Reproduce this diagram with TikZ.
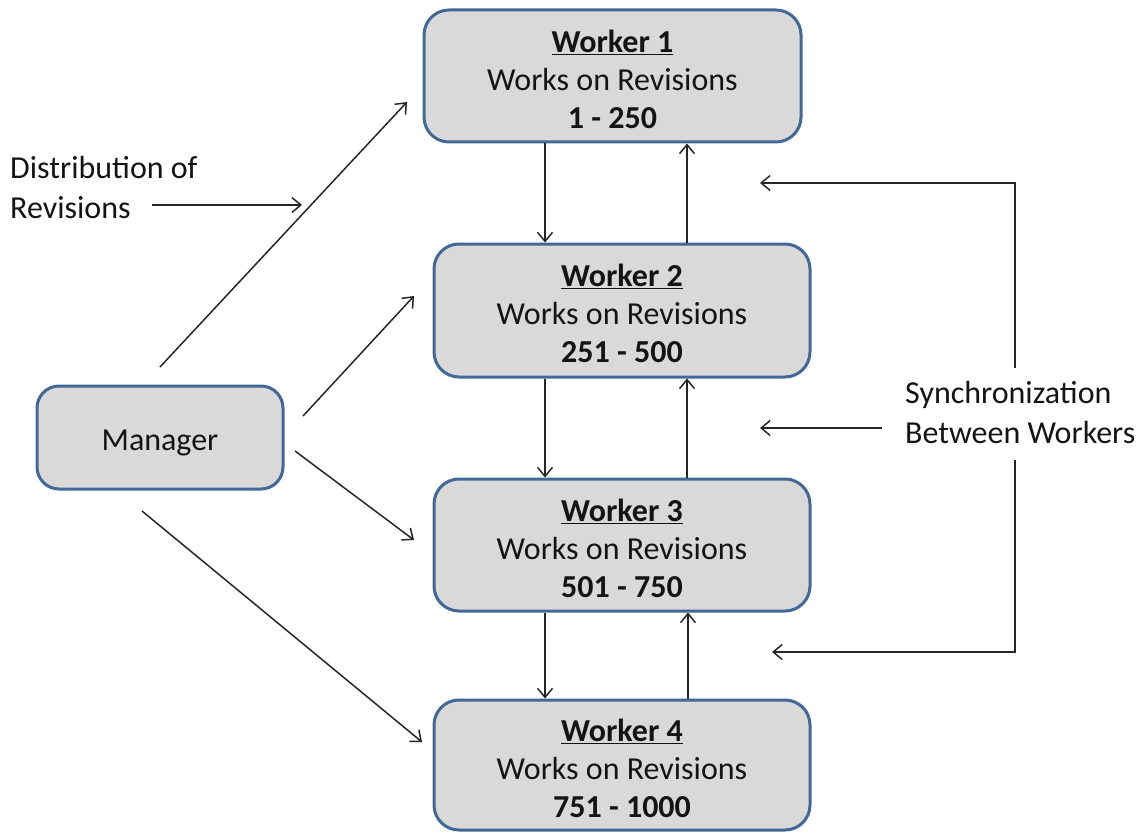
\documentclass[tikz,border=0pt]{standalone}
\usepackage{fontspec}
\setmainfont{Carlito}
\usetikzlibrary{arrows.meta}
\definecolor{boxfill}{RGB}{217,217,217}
\definecolor{boxline}{RGB}{65,104,150}
\definecolor{txt}{RGB}{20,20,20}
\newcommand{\upstrut}[1]{\rule{0pt}{#1}}
\tikzset{
  wbox/.style={draw=boxline, line width=3pt, fill=boxfill, rounded corners=25pt,
    align=center, text=txt, font=\fontsize{32}{38}\selectfont, inner sep=0pt},
  arr/.style={line width=1.5pt, draw=black!85, -{Straight Barb[length=9pt,width=15pt,line width=1.5pt]}},
  lbl/.style={align=left, text=txt, font=\fontsize{32}{40}\selectfont, inner sep=0pt}
}
\begin{document}
\begin{tikzpicture}[x=1pt,y=-1pt]
\useasboundingbox (0,0) rectangle (1136,832);
\node[wbox, minimum width=377pt, minimum height=132pt] (w1) at (612.5,76)
  {\upstrut{29pt}\underline{\textbf{Worker 1}}\\Works on Revisions\\\textbf{1 - 250}};
\node[wbox, minimum width=376pt, minimum height=133pt] (w2) at (622,310.5)
  {\upstrut{29pt}\underline{\textbf{Worker 2}}\\Works on Revisions\\\textbf{251 - 500}};
\node[wbox, minimum width=376pt, minimum height=132pt] (w3) at (622,545)
  {\upstrut{29pt}\underline{\textbf{Worker 3}}\\Works on Revisions\\\textbf{501 - 750}};
\node[wbox, minimum width=376pt, minimum height=130pt] (w4) at (622,765)
  {\upstrut{29pt}\underline{\textbf{Worker 4}}\\Works on Revisions\\\textbf{751 - 1000}};
\node[wbox, rounded corners=22pt, minimum width=246pt, minimum height=103pt] (mgr) at (160,437.5) {\upstrut{32pt}Manager};

\node[lbl, anchor=west] (dist) at (10,188) {Distribution of\\Revisions};
\node[lbl, anchor=west] (sync) at (905,413) {Synchronization\\Between Workers};

% worker-to-worker arrows
\draw[arr] (w1.south -| 545,0) -- (w2.north -| 545,0);
\draw[arr] (w2.north -| 687,0) -- (w1.south -| 687,0);
\draw[arr] (w2.south -| 545,0) -- (w3.north -| 545,0);
\draw[arr] (w3.north -| 687,0) -- (w2.south -| 687,0);
\draw[arr] (w3.south -| 545,0) -- (w4.north -| 545,0);
\draw[arr] (w4.north -| 688,0) -- (w3.south -| 688,0);

% manager distribution arrows
\coordinate (m1s) at (160,367);  \coordinate (m1e) at (407,102);
\coordinate (m2s) at (303,416);  \coordinate (m2e) at (414,296);
\coordinate (m3s) at (295,451);  \coordinate (m3e) at (414,540);
\coordinate (m4s) at (142,511);  \coordinate (m4e) at (422,742);
\draw[arr] (m1s) -- (m1e);
\draw[arr] (m2s) -- (m2e);
\draw[arr] (m3s) -- (m3e);
\draw[arr] (m4s) -- (m4e);

% distribution label arrow
\coordinate (ds) at (152,205);
\coordinate (de) at (302,205);
\draw[arr] (ds) -- (de);

% synchronization bracket
\coordinate (s1) at (760,183);
\coordinate (s2) at (760,428);
\coordinate (s3) at (772,652);
\coordinate (s2s) at (882,428);
\draw[arr] (1015,368) -- (1015,183) -- (s1);
\draw[arr] (1015,460) -- (1015,652) -- (s3);
\draw[arr] (s2s) -- (s2);
\end{tikzpicture}
\end{document}
